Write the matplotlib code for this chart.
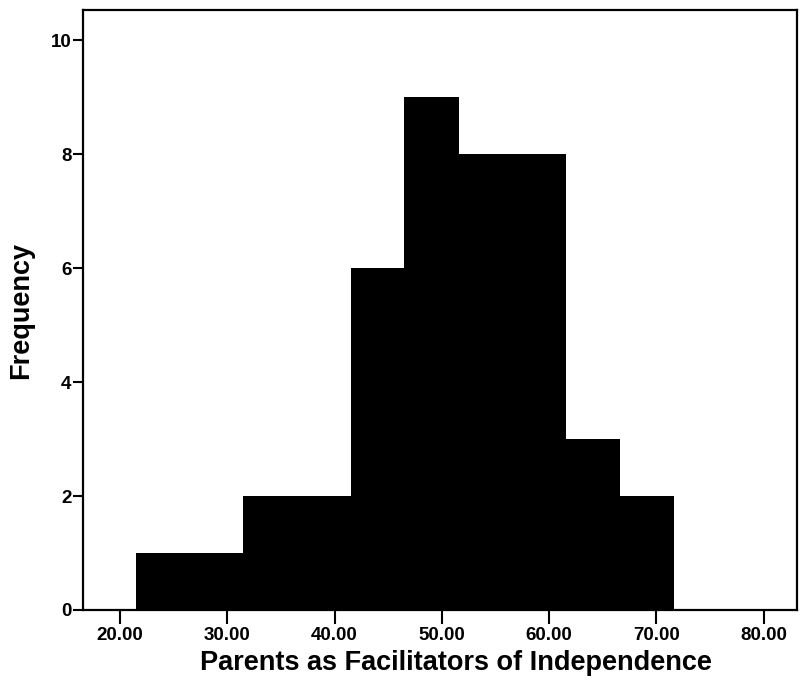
import numpy as np
import matplotlib.pyplot as plt

plt.rcParams['font.family'] = ['Liberation Sans', 'DejaVu Sans']
plt.rcParams['font.weight'] = 'bold'

# histogram data
bin_edges = [21.5, 26.5, 31.5, 36.5, 41.5, 46.5, 51.5, 56.5, 61.5, 66.5, 71.5]
counts = [1, 1, 2, 2, 6, 9, 8, 8, 3, 2]
x_ticks = [20, 30, 40, 50, 60, 70, 80]
y_ticks = [0, 2, 4, 6, 8, 10]

fig = plt.figure(figsize=(8.01, 6.92), dpi=100)
ax = fig.add_axes([0.103, 0.1185, 0.892, 0.867])

widths = np.diff(bin_edges)
ax.bar(bin_edges[:-1], counts, width=widths, align='edge', color='black',
       edgecolor='black', linewidth=0.5, antialiased=False)

ax.set_xlim(16.5, 83.1)
ax.set_ylim(0, 10.53)
ax.set_xticks(x_ticks)
ax.set_xticklabels(["%.2f" % v for v in x_ticks])
ax.set_yticks(y_ticks)
ax.tick_params(axis='x', direction='out', length=10, width=1.5, labelsize=13.5, pad=2)
ax.tick_params(axis='y', direction='out', length=7, width=1.5, labelsize=13.5, pad=1)
for s in ax.spines.values():
    s.set_linewidth(1.6)

ax.set_xlabel("Parents as Facilitators of Independence", fontsize=19.5, fontweight='bold')
ax.xaxis.set_label_coords(0.523, -0.067)
ax.xaxis.label.set_va('top')
ax.set_ylabel("Frequency", fontsize=19.5, fontweight='bold', labelpad=12)

plt.savefig("out.png", dpi=100)
plt.close()
